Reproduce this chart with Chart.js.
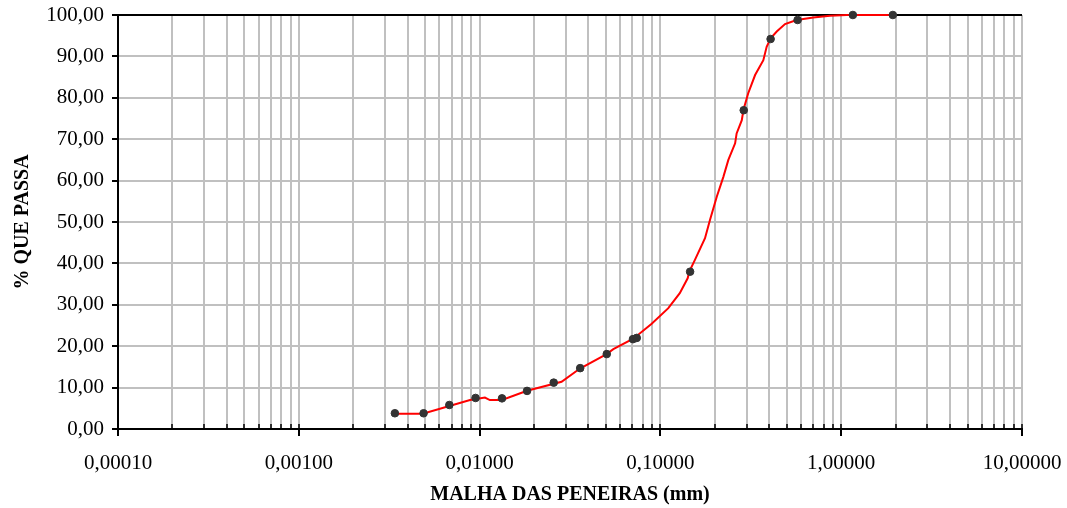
<!DOCTYPE html>
<html>
<head>
<meta charset="utf-8">
<title>Curva granulométrica</title>
<script src="https://cdn.jsdelivr.net/npm/chart.js@4.4.1/dist/chart.umd.min.js"></script>
<style>
  html, body { margin: 0; padding: 0; background: #fff; }
  #wrap { width: 1067px; height: 508px; }
</style>
</head>
<body>
<div id="wrap"><canvas id="grainChart" width="1067" height="508"></canvas></div>
<script>
// Sieve / sedimentation points (mm, % passing)
const sampleSize = [0.0034, 0.0049, 0.0068, 0.0095, 0.0133, 0.0183, 0.0257, 0.036, 0.0505, 0.0705, 0.074, 0.146, 0.289, 0.407, 0.574, 1.16, 1.93];
const samplePass = [3.8, 3.8, 5.8, 7.5, 7.4, 9.2, 11.2, 14.7, 18.1, 21.7, 22.0, 38.0, 77.0, 94.2, 98.8, 100, 100];

// Fitted curve (red)
const curveSize = [0.0034, 0.00485, 0.00885, 0.0107, 0.0114, 0.0133, 0.0183, 0.0284, 0.0359, 0.0504, 0.0549, 0.0708, 0.0895, 0.1106, 0.128, 0.1415, 0.1445, 0.155, 0.1765, 0.188, 0.205, 0.223, 0.2376, 0.259, 0.264, 0.282, 0.288, 0.306, 0.334, 0.371, 0.387, 0.408, 0.44, 0.489, 0.567, 0.701, 0.867, 1.07, 1.93];
const curvePass = [3.7, 3.7, 7.0, 7.6, 7.0, 7.0, 9.25, 11.4, 14.6, 18.1, 19.3, 21.8, 25.4, 29.2, 32.8, 36.4, 38.0, 40.8, 46.1, 50.5, 56.1, 60.9, 65.0, 69.0, 71.4, 74.6, 77.1, 81.1, 85.5, 89.1, 92.3, 94.4, 96.0, 97.8, 98.8, 99.4, 99.8, 100, 100];

const xMajorLabels = ['0,00010', '0,00100', '0,01000', '0,10000', '1,00000', '10,00000'];
const xMinExp = -4;
const xMaxExp = 1;

const serif = '"Liberation Serif", "Times New Roman", serif';

// small inward black ticks on the x axis
const innerTicks = {
    id: 'innerTicks',
    afterDraw(chart) {
        const x = chart.scales.x;
        const ctx = chart.ctx;
        const bottom = chart.chartArea.bottom;
        ctx.save();
        ctx.strokeStyle = '#000';
        ctx.lineWidth = 1.5;
        x.ticks.forEach(t => {
            const px = Math.round(x.getPixelForValue(t.value));
            ctx.beginPath();
            ctx.moveTo(px, bottom);
            ctx.lineTo(px, bottom - 5);
            ctx.stroke();
        });
        ctx.restore();
    }
};

new Chart(document.getElementById('grainChart'), {
    type: 'scatter',
    data: {
        datasets: [{
            label: 'Ensaios',
            data: sampleSize.map((x, i) => ({ x: x, y: samplePass[i] })),
            pointBackgroundColor: '#333333',
            pointBorderColor: '#333333',
            pointRadius: 3.8,
            showLine: false,
            clip: false
        }, {
            label: 'Curva',
            data: curveSize.map((x, i) => ({ x: x, y: curvePass[i] })),
            borderColor: '#ff0000',
            borderWidth: 2,
            pointRadius: 0,
            showLine: true,
            tension: 0,
            clip: false
        }]
    },
    options: {
        responsive: false,
        animation: false,
        layout: { padding: { top: 15, right: 45, left: 0, bottom: 0 } },
        plugins: {
            legend: { display: false },
            tooltip: { enabled: false }
        },
        scales: {
            x: {
                type: 'logarithmic',
                min: Math.pow(10, xMinExp),
                max: Math.pow(10, xMaxExp),
                afterBuildTicks: (scale) => {
                    const t = [];
                    for (let e = xMinExp; e <= xMaxExp; e++) {
                        for (let m = 1; m <= 9; m++) {
                            if (e === xMaxExp && m > 1) break;
                            t.push({ value: m * Math.pow(10, e), major: m === 1 });
                        }
                    }
                    scale.ticks = t;
                },
                afterFit: (scale) => {
                    scale.height = 79;
                    scale.paddingLeft = 0;
                    scale.paddingRight = 0;
                },
                grid: {
                    color: '#c0c0c0',
                    lineWidth: 2,
                    tickLength: 7,
                    tickColor: (c) => (c.tick && c.tick.major) ? '#000' : 'rgba(0,0,0,0)',
                    tickWidth: 2
                },
                border: { color: '#000', width: 2 },
                ticks: {
                    autoSkip: false,
                    maxRotation: 0,
                    padding: 15,
                    color: '#000',
                    font: { family: serif, size: 21 },
                    callback: (value, index, ticks) => ticks[index].major ? xMajorLabels[Math.round(Math.log10(value)) - xMinExp] : ''
                },
                title: {
                    display: true,
                    text: 'MALHA DAS PENEIRAS (mm)',
                    color: '#000',
                    font: { family: serif, size: 20, weight: 'bold' },
                    padding: { top: 6, bottom: 1 }
                }
            },
            y: {
                min: 0,
                max: 100,
                afterFit: (scale) => {
                    scale.width = 118;
                    scale.paddingTop = 0;
                    scale.paddingBottom = 0;
                },
                grid: {
                    color: (c) => (c.tick && c.tick.value === 100) ? '#000' : '#c0c0c0',
                    lineWidth: 2,
                    tickLength: 6,
                    tickColor: '#000',
                    tickWidth: 2
                },
                border: { color: '#000', width: 2 },
                ticks: {
                    stepSize: 10,
                    padding: 8,
                    color: '#000',
                    font: { family: serif, size: 21 },
                    callback: (v) => v.toFixed(2).replace('.', ',')
                },
                title: {
                    display: true,
                    text: '% QUE PASSA',
                    color: '#000',
                    font: { family: serif, size: 20, weight: 'bold' },
                    padding: { top: 11, bottom: 0 }
                }
            }
        }
    },
    plugins: [innerTicks]
});
</script>
</body>
</html>
